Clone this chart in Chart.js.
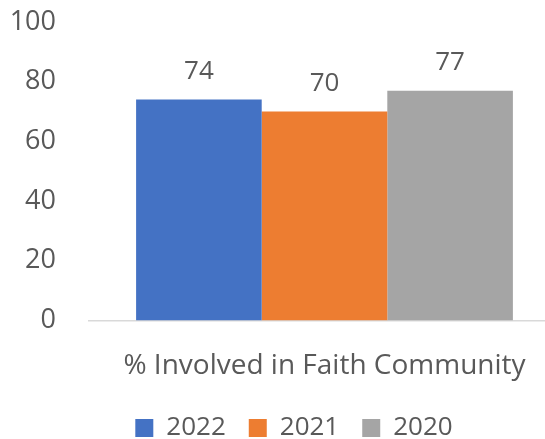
<!DOCTYPE html>
<html>
<head>
<meta charset="utf-8">
<script src="https://cdn.jsdelivr.net/npm/chart.js@4"></script>
<style>
	html, body { margin: 0; padding: 0; background: #fff; overflow: hidden; }
	#wrap { width: 560px; height: 451px; }
</style>
</head>
<body>
<div id="wrap"><canvas id="faith"></canvas></div>
<script>
var categories = ['% Involved in Faith Community'];
var years = ['2022', '2021', '2020'];
var values2022 = [74];
var values2021 = [70];
var values2020 = [77];
var yTicks = [0, 20, 40, 60, 80, 100];

var colors = ['#4472c4', '#ed7d31', '#a5a5a5'];
var textColor = '#595959';
var fontFamily = '"Open Sans", sans-serif';

// value labels on top of the bars
var barLabels = {
	id : 'barLabels',
	afterDatasetsDraw : function(chart) {
		var ctx = chart.ctx;
		ctx.save();
		ctx.font = '26px ' + fontFamily;
		ctx.fillStyle = textColor;
		ctx.textAlign = 'center';
		ctx.textBaseline = 'middle';
		chart.data.datasets.forEach(function(ds, i) {
			chart.getDatasetMeta(i).data.forEach(function(bar, j) {
				ctx.fillText(ds.data[j], bar.x, bar.y - 28);
			});
		});
		ctx.restore();
	}
};

// legend sits a bit right of the canvas centre
var legendShift = {
	id : 'legendShift',
	afterLayout : function(chart) {
		chart.legend.left += 11;
		chart.legend.right += 11;
	}
};

var config = {
	type    : 'bar',
	data    : {
		labels   : categories,
		datasets : [
			{ label : years[0], data : values2022, backgroundColor : colors[0] },
			{ label : years[1], data : values2021, backgroundColor : colors[1] },
			{ label : years[2], data : values2020, backgroundColor : colors[2] }
		]
	},
	options : {
		responsive          : true,
		maintainAspectRatio : false,
		animation           : false,
		layout              : {
			padding : { top : 0, left : 6, right : 0, bottom : 0 }
		},
		datasets            : {
			bar : { barPercentage : 1, categoryPercentage : 0.8 }
		},
		scales              : {
			x : {
				afterFit : function(axis) {
					axis.height -= 12;
				},
				grid   : { display : false },
				border : { color : '#d9d9d9', width : 1.5 },
				ticks  : { color : textColor, font : { family : fontFamily, size : 28 }, padding : 21 }
			},
			y : {
				min    : 0,
				max    : 100,
				afterBuildTicks : function(axis) {
					axis.ticks = yTicks.map(function(v) { return { value : v }; });
				},
				afterFit : function(axis) {
					axis.width = 83;
					axis.paddingTop = 22;
					axis.paddingBottom = 0;
				},
				grid   : { display : false },
				border : { display : false },
				ticks  : { color : textColor, font : { family : fontFamily, size : 27 }, padding : 25 }
			}
		},
		plugins             : {
			legend  : {
				position : 'bottom',
				labels   : {
					color     : textColor,
					font      : { family : fontFamily, size : 26 },
					boxWidth  : 18,
					boxHeight : 18,
					padding   : 23
				}
			},
			tooltip : { enabled : false }
		}
	},
	plugins : [barLabels, legendShift]
};

window.onload = function() {
	var ctx = document.getElementById('faith').getContext('2d');
	window.myBar = new Chart(ctx, config);
};
</script>
</body>
</html>
